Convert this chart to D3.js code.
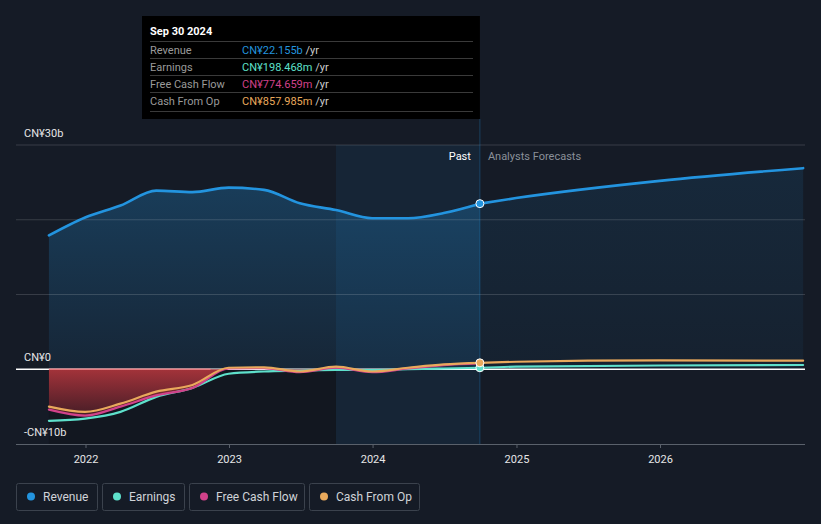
<!DOCTYPE html>
<html><head><meta charset="utf-8">
<script src="https://cdn.jsdelivr.net/npm/d3@7"></script>
<style>
html,body{margin:0;padding:0;background:#151b26;}
svg{display:block;font-family:Roboto,"Noto Sans",sans-serif;}
</style></head>
<body>
<svg id="chart" width="821" height="524"></svg>
<script>
const pastDates = ["2021-09-30","2021-12-31","2022-03-31","2022-06-30","2022-09-30","2022-12-31","2023-03-31","2023-06-30","2023-09-30","2023-12-31","2024-03-31","2024-06-30","2024-09-30"];
const revenuePast = [17.9, 20.3, 21.9, 23.9, 23.7, 24.3, 24.0, 22.2, 21.3, 20.2, 20.2, 20.9, 22.155];
const earningsPast = [-6.9, -6.6, -5.7, -3.7, -2.5, -0.6, -0.3, -0.2, -0.1, -0.1, 0.0, 0.1, 0.198];
const fcfPast = [-5.4, -6.2, -5.0, -3.5, -2.5, 0.1, 0.15, -0.4, 0.2, -0.4, 0.1, 0.55, 0.775];
const cfoPast = [-5.0, -5.7, -4.6, -3.0, -2.1, 0.2, 0.25, -0.3, 0.35, -0.3, 0.2, 0.65, 0.858];
const forecastDates = ["2024-09-30","2024-12-31","2025-12-31","2026-12-31"];
const revenueForecast = [22.155, 22.9, 25.2, 26.9];
const earningsForecast = [0.198, 0.35, 0.5, 0.57];
const cfoForecast = [0.858, 1.0, 1.2, 1.15];
const yTickValues = [-10, 0, 30];
const yTickLabels = ["-CN¥10b", "CN¥0", "CN¥30b"];
const xTickYears = ["2022","2023","2024","2025","2026"];
const legendNames = ["Revenue","Earnings","Free Cash Flow","Cash From Op"];
const colors = {rev:"#2394df", earn:"#5ee0cb", fcf:"#d1418a", cfo:"#e9a95c"};
const tooltipRows = [["Revenue","CN¥22.155b"],["Earnings","CN¥198.468m"],["Free Cash Flow","CN¥774.659m"],["Cash From Op","CN¥857.985m"]];

const parse = d3.timeParse("%Y-%m-%d");
const svg = d3.select("#chart");
const L = 16, R = 805;
const x = d3.scaleTime().domain([parse("2022-01-01"), parse("2026-01-01")]).range([85.5, 660]);
const y = d3.scaleLinear().domain([-10, 30]).range([444, 145]);

const past = pastDates.map((d,i)=>({d:parse(d), rev:revenuePast[i], earn:earningsPast[i], fcf:fcfPast[i], cfo:cfoPast[i]}));
const fut = forecastDates.map((d,i)=>({d:parse(d), rev:revenueForecast[i], earn:earningsForecast[i], cfo:cfoForecast[i]}));
const presentX = x(parse("2024-09-30"));
const bandX = x(parse("2023-09-30"));

const defs = svg.append("defs");
const g1 = defs.append("linearGradient").attr("id","revGrad").attr("gradientUnits","userSpaceOnUse")
  .attr("x1",0).attr("x2",0).attr("y1",y(30)).attr("y2",y(0));
g1.append("stop").attr("offset","0%").attr("stop-color","#2394df").attr("stop-opacity",0.32);
g1.append("stop").attr("offset","100%").attr("stop-color","#2394df").attr("stop-opacity",0.09);
const g2 = defs.append("linearGradient").attr("id","redGrad").attr("gradientUnits","userSpaceOnUse")
  .attr("x1",0).attr("x2",0).attr("y1",y(0)).attr("y2",y(-7));
g2.append("stop").attr("offset","0%").attr("stop-color","#a3333a").attr("stop-opacity",1);
g2.append("stop").attr("offset","100%").attr("stop-color","#3a1a24").attr("stop-opacity",1);
const g3 = defs.append("linearGradient").attr("id","futGrad").attr("gradientUnits","userSpaceOnUse")
  .attr("x1",0).attr("x2",0).attr("y1",y(30)).attr("y2",y(0));
g3.append("stop").attr("offset","0%").attr("stop-color","#2394df").attr("stop-opacity",0.12);
g3.append("stop").attr("offset","100%").attr("stop-color","#2394df").attr("stop-opacity",0.05);

// darker area below zero in past
svg.append("rect").attr("x", x(past[0].d)).attr("y", y(0)).attr("width", bandX - x(past[0].d)).attr("height", 444 - y(0)).attr("fill","#10151d").attr("opacity",0.6);
// highlight band (last year)
svg.append("rect").attr("x", bandX).attr("y", y(30)).attr("width", presentX - bandX).attr("height", 444 - y(30))
  .attr("fill","#2394df").attr("opacity",0.09);

const curve = d3.curveMonotoneX;
// revenue area
svg.append("path").datum(past).attr("fill","url(#revGrad)")
  .attr("d", d3.area().curve(curve).x(d=>x(d.d)).y0(y(0)).y1(d=>y(d.rev)));
svg.append("path").datum(fut).attr("fill","url(#futGrad)")
  .attr("d", d3.area().curve(curve).x(d=>x(d.d)).y0(y(0)).y1(d=>y(d.rev)));

// gridlines
[10,20,30].forEach(v=>{
  svg.append("line").attr("x1",L).attr("x2",R).attr("y1",y(v)).attr("y2",y(v))
    .attr("stroke","#ffffff").attr("stroke-opacity",0.15).attr("stroke-width",1);
});
// zero line
svg.append("line").attr("x1",L).attr("x2",R).attr("y1",y(0)).attr("y2",y(0))
  .attr("stroke","#ffffff").attr("stroke-width",1.5);

// red negative area
svg.append("path").datum(past).attr("fill","url(#redGrad)")
  .attr("d", d3.area().curve(curve).x(d=>x(d.d)).y0(y(0)).y1(d=>y(Math.min(0, d.fcf, d.cfo))));
svg.append("line").attr("x1",x(past[0].d)).attr("x2",x(parse("2022-11-15"))).attr("y1",y(0)).attr("y2",y(0))
  .attr("stroke","#e87a80").attr("stroke-width",1.5);

// present line
svg.append("line").attr("x1",presentX).attr("x2",presentX).attr("y1",119).attr("y2",444)
  .attr("stroke","#2394df").attr("stroke-opacity",0.3).attr("stroke-width",1);

// bottom axis
const xAxis = d3.axisBottom(x).tickValues(xTickYears.map(t=>parse(t+"-01-01"))).tickFormat(d3.timeFormat("%Y")).tickSize(4).tickPadding(7);
const ax = svg.append("g").attr("transform","translate(0,444)").call(xAxis);
ax.select(".domain").remove();
ax.selectAll(".tick line").attr("stroke","#5a616b");
ax.selectAll(".tick text").attr("fill","#e6e6e6").attr("font-size",11).attr("font-family","Roboto");
svg.append("line").attr("x1",L).attr("x2",R).attr("y1",444.5).attr("y2",444.5).attr("stroke","#5a616b").attr("stroke-width",1);

// lines
const line = key => d3.line().curve(curve).x(d=>x(d.d)).y(d=>y(d[key]));
function drawLine(data,key,color,w){
  svg.append("path").datum(data).attr("fill","none").attr("stroke",color).attr("stroke-width",w)
    .attr("stroke-linejoin","round").attr("stroke-linecap","round").attr("d", line(key));
}
drawLine(past,"earn",colors.earn,2.2);
drawLine(past,"fcf",colors.fcf,2.2);
drawLine(past,"cfo",colors.cfo,2.2);
drawLine(fut,"earn",colors.earn,2.2);
drawLine(fut,"cfo",colors.cfo,2.2);
drawLine(past,"rev",colors.rev,2.6);
drawLine(fut,"rev",colors.rev,2.6);

// present dots
[[colors.earn, earningsPast[12]],[colors.cfo, cfoPast[12]],[colors.rev, revenuePast[12]]].forEach(([c,v])=>{
  svg.append("circle").attr("cx",presentX).attr("cy",y(v)).attr("r",4).attr("fill",c).attr("stroke","#ffffff").attr("stroke-width",1);
});

// y labels
yTickValues.forEach((v,i)=>{
  svg.append("text").attr("x",24).attr("y",y(v)-8).attr("fill","#e6e6e6").attr("font-size",11).text(yTickLabels[i]);
});

// Past / forecast labels
svg.append("text").attr("x",presentX-9).attr("y",160).attr("text-anchor","end").attr("fill","#ffffff").attr("font-size",11).text("Past");
svg.append("text").attr("x",presentX+8).attr("y",160).attr("fill","#8a9099").attr("font-size",11).text("Analysts Forecasts");

// tooltip
const tt = svg.append("g");
tt.append("rect").attr("x",142).attr("y",16).attr("width",presentX-142).attr("height",103).attr("fill","#000000");
tt.append("text").attr("x",150).attr("y",35).attr("fill","#ffffff").attr("font-size",11).attr("font-weight","bold").text("Sep 30 2024");
const sepY = [41.5, 58.5, 75.5, 92.5, 111.5];
sepY.forEach(sy=>tt.append("line").attr("x1",150).attr("x2",473).attr("y1",sy).attr("y2",sy).attr("stroke","#3a3a3a").attr("stroke-width",1));
const rowCols = [colors.rev, colors.earn, colors.fcf, colors.cfo];
tooltipRows.forEach((r,i)=>{
  const by = 53.5 + i*17;
  tt.append("text").attr("x",150).attr("y",by).attr("fill","#9a9a9a").attr("font-size",11).text(r[0]);
  const t = tt.append("text").attr("x",242).attr("y",by).attr("font-size",11);
  t.append("tspan").attr("fill",rowCols[i]).text(r[1]);
  t.append("tspan").attr("fill","#cccccc").text(" /yr");
});

// legend
const legBoxes = [[16,81],[102,82],[189,115],[309,110]];
legendNames.forEach((n,i)=>{
  const [bx,bw] = legBoxes[i];
  const lg = svg.append("g");
  lg.append("rect").attr("x",bx+0.5).attr("y",483.5).attr("width",bw).attr("height",27).attr("rx",2)
    .attr("fill","none").attr("stroke","#3b424d");
  lg.append("circle").attr("cx",bx+15).attr("cy",496.5).attr("r",4).attr("fill",rowCols[i]);
  lg.append("text").attr("x",bx+27).attr("y",500.5).attr("fill","#d0d3d8").attr("font-size",12).text(n);
});
</script>
</body></html>
